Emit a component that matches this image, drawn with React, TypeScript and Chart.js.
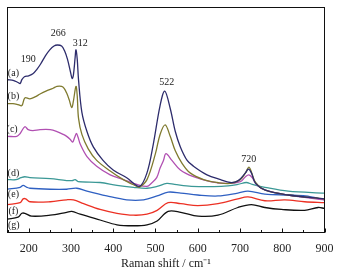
import React, { useEffect, useRef } from "react";
import { Chart, registerables } from "chart.js";

Chart.register(...registerables);

// Raman shift (cm^-1) and relative intensity (a.u., offset stacked) per spectrum
const xA = [150, 165, 175, 180, 184, 190, 200, 210, 220, 228, 240, 250, 260, 268, 278, 285, 292, 300, 303, 306, 310, 312, 315, 318, 326, 338, 353, 376, 400, 432, 462, 480, 495, 511, 522, 535, 547, 559, 575, 590, 622, 654, 677, 696, 713, 720, 727, 737, 760, 814, 900];
const yA = [159, 158, 156, 155, 159, 162, 163, 165, 170, 175, 184, 190, 194, 195, 194, 189, 180, 165, 160, 164, 182, 190, 180, 159, 125, 105, 89, 75, 65, 57, 48, 62, 92, 132, 147, 129, 105, 89, 75, 69, 60, 55, 52, 54, 62, 66, 62, 51, 44, 39, 35];

const xB = [150, 163, 175, 184, 191, 203, 215, 227, 241, 258, 267, 278, 284, 290, 296, 302, 306, 312, 315, 318, 326, 341, 361, 393, 424, 456, 462, 480, 500, 511, 523, 535, 547, 563, 582, 614, 646, 677, 701, 713, 721, 727, 737, 760, 814, 900];
const yB = [134, 134, 133, 132, 140, 139, 141, 144, 147, 150, 152, 152, 150, 145, 138, 130, 137, 152, 142, 119, 102, 87, 75, 64, 55, 48, 47, 55, 82, 102, 112, 100, 85, 72, 62, 55, 52, 51, 55, 62, 68, 63, 52, 44, 39, 35];

const xC = [150, 172, 180, 191, 199, 210, 227, 251, 267, 282, 290, 298, 304, 309, 313, 317, 322, 338, 361, 393, 424, 456, 480, 490, 503, 511, 519, 525, 539, 559, 590, 630, 669, 701, 713, 721, 729, 739, 760, 814, 900];
const yC = [100, 100, 103, 110, 107, 106, 107, 107, 105, 102, 100, 97, 94, 99, 103, 99, 92, 79, 69, 60, 55, 50, 48, 51, 57, 67, 75, 82, 75, 65, 58, 53, 51, 53, 58, 60, 57, 50, 44, 39, 34];

const xD = [150, 170, 182, 191, 203, 251, 290, 303, 310, 317, 369, 409, 448, 480, 504, 527, 545, 585, 656, 695, 715, 729, 759, 814, 900];
const yD = [55, 55, 57, 58, 57, 56, 54, 54, 55, 53, 52, 49, 47, 46, 48, 51, 50, 48, 48, 50, 52, 50, 47, 43, 41];

const xE = [150, 180, 187, 196, 203, 251, 290, 314, 338, 385, 432, 472, 504, 530, 560, 600, 648, 695, 719, 759, 814, 855, 900];
const yE = [45, 47, 49, 47, 46, 45, 45, 46, 43, 38, 34, 34, 38, 42, 41, 39, 38, 41, 43, 40, 39, 38, 34];

const xF = [150, 180, 187, 193, 203, 251, 290, 306, 330, 369, 409, 448, 480, 504, 530, 560, 600, 648, 695, 719, 759, 806, 853, 900];
const yF = [29, 31, 35, 35, 32, 32, 34, 34, 30, 24, 20, 18, 19, 23, 31, 30, 28, 30, 35, 37, 33, 34, 32, 31];

const xG = [150, 175, 184, 191, 207, 251, 290, 302, 322, 369, 409, 448, 480, 504, 530, 560, 601, 648, 695, 727, 759, 798, 853, 885, 900];
const yG = [14, 16, 20, 20, 17, 18, 21, 22, 19, 13, 8, 7, 8, 12, 22, 21, 17, 18, 26, 29, 26, 24, 23, 26, 25];

const seriesNames = ["(a)", "(b)", "(c)", "(d)", "(e)", "(f)", "(g)"];
const seriesColors = ["#2d2c6c", "#7f7a2e", "#b150b2", "#3b9896", "#2f60c2", "#ec3023", "#111111"];

// text annotations (data coordinates)
const curveLabelX = [164, 164, 161, 164, 164, 164, 165];
const curveLabelY = [165, 142, 107, 62, 40, 22, 7];
const peakLabels = ["190", "266", "312", "522", "720"];
const peakLabelX = [199, 270, 322, 527, 721];
const peakLabelY = [180, 207, 197, 156, 76];

const xTicksLabelled = [200, 300, 400, 500, 600, 700, 800, 900];

const FONT = '"Liberation Serif", "Times New Roman", serif';

export default function App() {
  const ref = useRef<HTMLCanvasElement | null>(null);

  useEffect(() => {
    if (!ref.current) return;
    const xs = [xA, xB, xC, xD, xE, xF, xG];
    const ys = [yA, yB, yC, yD, yE, yF, yG];

    const framePlugin = {
      id: "frame",
      beforeDraw(chart: any) {
        const { ctx } = chart;
        ctx.save();
        ctx.fillStyle = "#ffffff";
        ctx.fillRect(0, 0, chart.width, chart.height);
        ctx.restore();
      },
      afterDraw(chart: any) {
        const { ctx, chartArea: a, scales } = chart;
        const xs = scales.x;
        const yS = scales.y;
        ctx.save();
        ctx.strokeStyle = "#111";
        ctx.lineWidth = 1;
        ctx.strokeRect(a.left, a.top, a.right - a.left, a.bottom - a.top);
        // inward tick marks
        xs.ticks.forEach((t: any) => {
          const px = Math.round(xs.getPixelForValue(t.value)) + 0.5;
          const len = xTicksLabelled.includes(t.value) ? 4 : 2.5;
          ctx.beginPath();
          ctx.moveTo(px, a.bottom);
          ctx.lineTo(px, a.bottom - len);
          ctx.stroke();
        });
        ctx.fillStyle = "#222";
        ctx.textAlign = "center";
        ctx.textBaseline = "middle";
        ctx.font = `10px ${FONT}`;
        seriesNames.forEach((n, i) => {
          ctx.fillText(n, xs.getPixelForValue(curveLabelX[i]), yS.getPixelForValue(curveLabelY[i]));
        });
        peakLabels.forEach((n, i) => {
          ctx.fillText(n, xs.getPixelForValue(peakLabelX[i]), yS.getPixelForValue(peakLabelY[i]));
        });
        ctx.restore();
      },
    };

    const chart = new Chart(ref.current, {
      type: "line",
      data: {
        datasets: seriesNames.map((name, i) => ({
          label: name,
          data: xs[i].map((x, j) => ({ x, y: ys[i][j] })),
          borderColor: seriesColors[i],
          borderWidth: 1.3,
          pointRadius: 0,
          tension: 0.35,
          fill: false,
        })),
      },
      options: {
        responsive: false,
        animation: false,
        layout: { padding: { left: 7.5, top: 7.5, right: 17.5, bottom: 3.7 } },
        plugins: { legend: { display: false }, tooltip: { enabled: false } },
        scales: {
          x: {
            type: "linear",
            min: 150,
            max: 900,
            grid: { display: false },
            border: { display: false },
            ticks: {
              stepSize: 50,
              autoSkip: false,
              maxRotation: 0,
              padding: 1,
              color: "#222",
              font: { family: FONT, size: 12 },
              callback: (v: any) => (xTicksLabelled.includes(Number(v)) ? String(v) : ""),
            },
            title: {
              display: true,
              text: "Raman shift / cm⁻¹",
              color: "#222",
              font: { family: FONT, size: 12 },
              padding: { top: 0, bottom: 0 },
            },
          },
          y: { display: false, min: 0, max: 234 },
        },
      },
      plugins: [framePlugin],
    });
    return () => chart.destroy();
  }, []);

  return (
    <canvas
      ref={ref}
      width={342}
      height={275}
      style={{ position: "absolute", left: 0, top: 0, display: "block" }}
    />
  );
}
